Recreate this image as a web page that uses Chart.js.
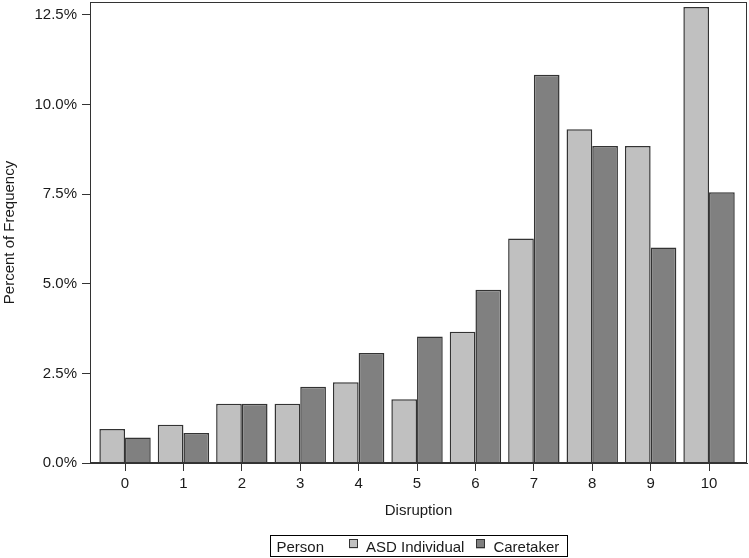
<!DOCTYPE html>
<html>
<head>
<meta charset="utf-8">
<script src="https://cdn.jsdelivr.net/npm/chart.js@4"></script>
<style>
  html, body { margin: 0; padding: 0; background: #fff; }
  #wrap { width: 749px; height: 558px; }
</style>
</head>
<body>
<div id="wrap"><canvas id="c" width="749" height="558"></canvas></div>
<script>
// ---- data ----
const categories = [0, 1, 2, 3, 4, 5, 6, 7, 8, 9, 10];
const asdIndividual = [0.95, 1.07, 1.65, 1.65, 2.25, 1.78, 3.66, 6.26, 9.31, 8.84, 12.72];
const caretaker     = [0.71, 0.84, 1.65, 2.13, 3.07, 3.53, 4.83, 10.83, 8.84, 6.01, 7.55];
const yTicks = [0, 2.5, 5, 7.5, 10, 12.5];
const seriesNames = ['ASD Individual', 'Caretaker'];
const legendTitle = 'Person';
const xTitle = 'Disruption';
const yTitle = 'Percent of Frequency';

const FONT = '"Liberation Sans", Arial, Helvetica, sans-serif';
const INK = '#1a1a1a';
const LINE = '#333333';

const framePlugin = {
  id: 'frame',
  afterDraw(chart) {
    const {ctx, chartArea: a} = chart;
    ctx.save();
    ctx.strokeStyle = LINE;
    ctx.lineWidth = 1;
    ctx.strokeRect(Math.round(a.left) + 0.5, Math.round(a.top) + 0.5,
                   Math.round(a.right - a.left) - 1, Math.round(a.bottom - a.top) - 1);
    ctx.restore();
  }
};

const legendPlugin = {
  id: 'customLegend',
  afterDraw(chart) {
    const {ctx, chartArea: a} = chart;
    const ds = chart.data.datasets;
    ctx.save();
    ctx.font = '15px ' + FONT;
    ctx.textBaseline = 'alphabetic';
    const pad = 6, gapTitle = 25, sq = 9, gapSq = 8, gapItem = 12, padR = 8;
    const wTitle = ctx.measureText(legendTitle).width;
    const wLabels = ds.map(d => ctx.measureText(d.label).width);
    let total = pad + wTitle + gapTitle + padR;
    wLabels.forEach((w, i) => { total += sq + gapSq + w + (i < wLabels.length - 1 ? gapItem : 0); });
    const cx = (a.left + a.right) / 2;
    const x0 = Math.round(cx - total / 2) + 0.5;
    const y0 = 535.5, h = 21;
    ctx.strokeStyle = '#000';
    ctx.lineWidth = 1;
    ctx.strokeRect(x0, y0, Math.round(total), h);
    ctx.fillStyle = INK;
    let x = x0 + pad;
    const base = y0 + 16;
    ctx.fillText(legendTitle, x, base);
    x += wTitle + gapTitle;
    ds.forEach((d, i) => {
      ctx.fillStyle = d.backgroundColor;
      ctx.fillRect(Math.round(x), y0 + 4, sq, sq);
      ctx.strokeStyle = LINE;
      ctx.strokeRect(Math.round(x) + 0.5, y0 + 4, sq - 1, sq - 1);
      x += sq + gapSq;
      ctx.fillStyle = INK;
      ctx.fillText(d.label, x, base);
      x += wLabels[i] + gapItem;
    });
    ctx.restore();
  }
};

new Chart(document.getElementById('c'), {
  type: 'bar',
  data: {
    datasets: [
      {
        label: seriesNames[0],
        data: categories.map((c, i) => ({x: c, y: asdIndividual[i]})),
        backgroundColor: '#c0c0c0',
        borderColor: LINE,
        borderWidth: 1.5
      },
      {
        label: seriesNames[1],
        data: categories.map((c, i) => ({x: c, y: caretaker[i]})),
        backgroundColor: '#808080',
        borderColor: LINE,
        borderWidth: 1.5
      }
    ]
  },
  options: {
    responsive: false,
    animation: false,
    devicePixelRatio: 1,
    categoryPercentage: 0.88,
    barPercentage: 1.0,
    layout: { padding: { top: 2, right: 2, left: 0, bottom: 0 } },
    plugins: { legend: { display: false }, tooltip: { enabled: false } },
    scales: {
      x: {
        type: 'linear',
        offset: false,
        min: -0.6,
        max: 10.65,
        afterFit(s) { s.height = 95; s.paddingLeft = 0; s.paddingRight = 0; },
        afterBuildTicks(s) { s.ticks = categories.map(v => ({value: v})); },
        ticks: {
          stepSize: 1,
          includeBounds: false,
          padding: 4,
          color: INK,
          font: { family: FONT, size: 15 },
          callback: v => String(v)
        },
        grid: { offset: false, drawOnChartArea: false, drawTicks: true, tickLength: 8, color: LINE, lineWidth: 1 },
        border: { display: true, color: LINE, width: 1 },
        title: {
          display: true, text: xTitle, color: INK,
          font: { family: FONT, size: 15 },
          padding: { top: 0, bottom: 38 }
        }
      },
      y: {
        min: 0,
        max: 12.86,
        afterFit(s) { s.width = 90; s.paddingTop = 0; s.paddingBottom = 0; },
        afterBuildTicks(s) { s.ticks = yTicks.map(v => ({value: v})); },
        ticks: {
          stepSize: 2.5,
          includeBounds: false,
          padding: 5,
          color: INK,
          font: { family: FONT, size: 15 },
          callback: v => Number(v).toFixed(1) + '%'
        },
        grid: { drawOnChartArea: false, drawTicks: true, tickLength: 8, color: LINE, lineWidth: 1 },
        border: { display: true, color: LINE, width: 1 },
        title: {
          display: true, text: yTitle, color: INK,
          font: { family: FONT, size: 15 },
          padding: { top: 1, bottom: 0 }
        }
      }
    }
  },
  plugins: [framePlugin, legendPlugin]
});
</script>
</body>
</html>
